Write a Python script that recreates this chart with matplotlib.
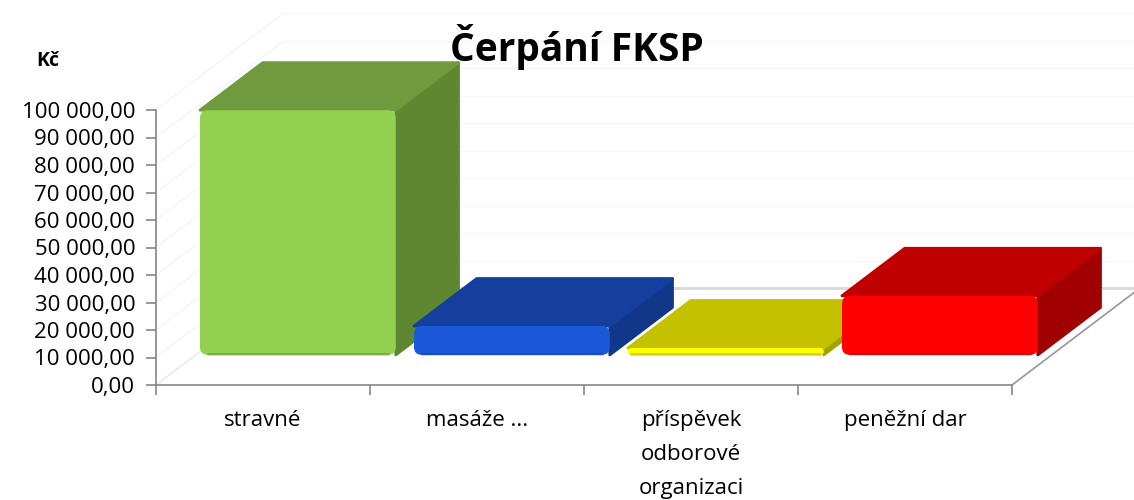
import matplotlib
matplotlib.use("Agg")
import matplotlib.pyplot as plt
from matplotlib.patches import Polygon, FancyBboxPatch
from matplotlib.ticker import FixedLocator, FuncFormatter

plt.rcParams['font.family'] = ['Open Sans', 'DejaVu Sans']

# data
categories = ['stravné', 'masáže ...', 'příspěvek\nodborové\norganizaci', 'peněžní dar']
values = [89000, 10500, 2500, 21500]
front_colors = ['#92d050', '#1b58da', '#ffff00', '#ff0000']
top_colors = ['#6f9a3d', '#143f9f', '#c4c200', '#c00000']
side_colors = ['#5f8732', '#113788', '#a3a000', '#a00000']
y_ticks = list(range(0, 100001, 10000))

# pixel geometry of the fake 3D box
W, H = 1134, 500
X0, Y0 = 156, 385          # pixel of (0, 0)
PX_CAT = 214               # pixels per category
PX_VAL = 275 / 100000      # pixels per Kč
DX = 128 / PX_CAT          # floor depth, x in data units
DY = 97 / PX_VAL           # floor depth, y in data units
F0, FD = 0.31, 0.49        # bar front position and bar depth (fraction of floor depth)
BAR_W = 0.915

fig = plt.figure(figsize=(W / 100, H / 100), dpi=100)
ax = fig.add_axes([0, 0, 1, 1])
ax.set_xlim(-X0 / PX_CAT, (W - X0) / PX_CAT)
ax.set_ylim(-(H - Y0) / PX_VAL, Y0 / PX_VAL)

# back wall and side wall gridlines (very faint)
for v in y_ticks:
    ax.plot([DX, ax.get_xlim()[1]], [v + DY, v + DY], color='#f7f7f7', lw=1, zorder=1)
    ax.plot([0, DX], [v, v + DY], color='#f4f4f4', lw=0.8, zorder=1)
ax.plot([DX, ax.get_xlim()[1]], [DY, DY], color='#d9d9d9', lw=2, zorder=1)
# floor edges
ax.plot([4, 4 + DX * 1.3], [0, DY * 1.3], color='#969696', lw=1.2, zorder=1)
ax.plot([0, DX], [0, DY], color='#e6e6e6', lw=0.8, zorder=1)

aspect = (1 / PX_VAL) / (1 / PX_CAT)
for i, (v, fc, tc, sc) in enumerate(zip(values, front_colors, top_colors, side_colors)):
    x = i + 0.02 + F0 * DX
    y = F0 * DY
    dx, dy = FD * DX, FD * DY
    # side face
    ax.add_patch(Polygon([(x + BAR_W, y), (x + BAR_W + dx, y + dy), (x + BAR_W + dx, y + v + dy),
                          (x + BAR_W, y + v)], closed=True, fc=sc, ec=sc, lw=2,
                         joinstyle='round', zorder=3 + i))
    # top face
    ax.add_patch(Polygon([(x, y + v), (x + dx, y + v + dy), (x + BAR_W + dx, y + v + dy),
                          (x + BAR_W, y + v)], closed=True, fc=tc, ec=tc, lw=2,
                         joinstyle='round', zorder=3 + i))
    # front face with rounded corners
    r = min(8, v * PX_VAL / 2) / PX_CAT
    ax.add_patch(FancyBboxPatch((x, y), BAR_W, v, boxstyle=f'round,pad=0,rounding_size={r}',
                                mutation_aspect=aspect, fc=fc, ec='none', zorder=3 + i))
    # soft shading along the bottom edge
    ax.plot([x + r, x + BAR_W - r], [y + 1.2 / PX_VAL, y + 1.2 / PX_VAL],
            color='black', alpha=0.18, lw=2, solid_capstyle='round', zorder=3 + i)

# axes
for s in ['top', 'right']:
    ax.spines[s].set_visible(False)
ax.spines['left'].set_position(('data', 0))
ax.spines['left'].set_bounds(0, 100000)
ax.spines['bottom'].set_position(('data', 0))
ax.spines['bottom'].set_bounds(0, 4)
for s in ['left', 'bottom']:
    ax.spines[s].set_color('#868686')
    ax.spines[s].set_linewidth(1.2)
    ax.spines[s].set_zorder(2)

ax.yaxis.set_major_locator(FixedLocator(y_ticks))
ax.yaxis.set_major_formatter(FuncFormatter(
    lambda v, p: f'{v:,.2f}'.replace(',', ' ').replace('.', ',')))
ax.tick_params(axis='y', direction='out', length=7, width=1.2, color='#868686',
               labelsize=16, pad=8)

ax.xaxis.set_major_locator(FixedLocator([0, 1, 2, 3, 4]))
ax.xaxis.set_major_formatter(FuncFormatter(lambda v, p: ''))
ax.xaxis.set_minor_locator(FixedLocator([0.5, 1.5, 2.5, 3.5]))
ax.xaxis.set_minor_formatter(FuncFormatter(lambda v, p: categories[int(v)]))
ax.tick_params(axis='x', which='major', direction='out', length=7, width=1.2, color='#868686')
ax.tick_params(axis='x', which='minor', length=0, labelsize=16, pad=18)
for lab in ax.xaxis.get_minorticklabels():
    lab.set_linespacing(1.8)

fig.text(0.509, 0.905, 'Čerpání FKSP', ha='center', va='center', fontsize=28, fontweight='bold')
fig.text(0.042, 0.878, 'Kč', ha='center', va='center', fontsize=14, fontweight='bold')

fig.savefig('out.png', dpi=100)
